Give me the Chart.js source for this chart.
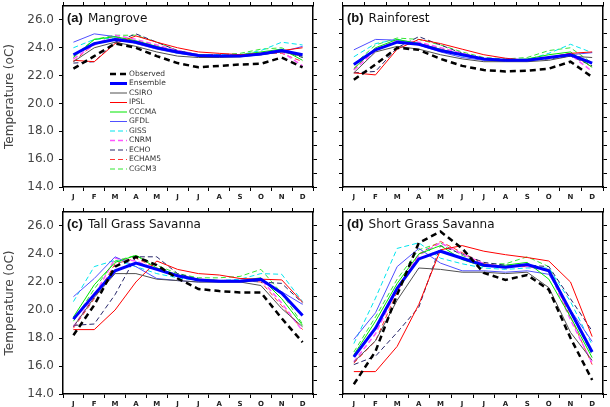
<!DOCTYPE html>
<html>
<head>
<meta charset="utf-8">
<script src="https://cdn.jsdelivr.net/npm/chart.js@4.4.1/dist/chart.umd.min.js"></script>
<style>
  html, body { margin: 0; padding: 0; background: #fff; }
  #wrap { position: relative; width: 610px; height: 407px; }
  canvas { position: absolute; }
</style>
</head>
<body>
<div id="wrap">
  <canvas id="chartA" width="320" height="205" style="left:0px;top:0px"></canvas>
  <canvas id="chartB" width="290" height="205" style="left:320px;top:0px"></canvas>
  <canvas id="chartC" width="320" height="202" style="left:0px;top:205px"></canvas>
  <canvas id="chartD" width="290" height="202" style="left:320px;top:205px"></canvas>
</div>
<script>
const months = ['J', 'F', 'M', 'A', 'M', 'J', 'J', 'A', 'S', 'O', 'N', 'D'];
const models = ['Observed', 'Ensemble', 'CSIRO', 'IPSL', 'CCCMA', 'GFDL', 'GISS', 'CNRM', 'ECHO', 'ECHAM5', 'CGCM3'];
const yMin = 14, yMax = 27;

// one row per model, same order as `models`
const mangrove = [
    [22.5, 23.4, 24.3, 24.0, 23.4, 22.9, 22.6, 22.7, 22.8, 22.85, 23.3, 22.6],
    [23.5, 24.3, 24.6, 24.4, 24.0, 23.7, 23.45, 23.4, 23.4, 23.55, 23.8, 23.5],
    [23.0, 24.0, 24.4, 24.1, 23.7, 23.4, 23.3, 23.3, 23.35, 23.5, 23.7, 23.4],
    [23.1, 23.0, 24.3, 24.85, 24.4, 24.0, 23.7, 23.6, 23.5, 23.6, 23.8, 24.0],
    [23.3, 24.6, 24.8, 24.5, 24.1, 23.7, 23.5, 23.4, 23.5, 23.7, 23.9, 23.1],
    [24.4, 25.0, 24.8, 24.3, 23.9, 23.6, 23.4, 23.4, 23.4, 23.5, 23.7, 24.1],
    [24.0, 24.6, 24.7, 24.4, 24.0, 23.6, 23.5, 23.5, 23.5, 23.8, 24.4, 24.2],
    [23.2, 24.2, 24.9, 24.6, 24.2, 23.8, 23.5, 23.4, 23.4, 23.6, 23.7, 22.7],
    [22.9, 23.0, 24.4, 25.0, 24.4, 23.8, 23.5, 23.4, 23.4, 23.6, 23.8, 23.3],
    [23.0, 24.3, 24.7, 24.5, 24.1, 23.7, 23.5, 23.5, 23.5, 23.6, 23.6, 23.0],
    [23.4, 24.6, 24.9, 24.9, 24.4, 23.8, 23.5, 23.5, 23.6, 23.9, 24.0, 23.3]
];
const rainforest = [
    [21.7, 22.8, 24.0, 23.85, 23.2, 22.7, 22.4, 22.3, 22.35, 22.5, 23.0, 21.9],
    [22.8, 23.85, 24.4, 24.25, 23.8, 23.5, 23.2, 23.1, 23.1, 23.3, 23.5, 22.9],
    [22.2, 23.7, 24.1, 23.9, 23.5, 23.2, 23.0, 23.0, 23.0, 23.1, 23.4, 23.3],
    [22.2, 22.05, 23.9, 24.6, 24.3, 23.9, 23.5, 23.25, 23.1, 23.3, 23.6, 23.7],
    [22.5, 24.0, 24.6, 24.3, 23.9, 23.5, 23.2, 23.1, 23.2, 23.5, 23.7, 22.6],
    [23.85, 24.6, 24.55, 24.2, 23.7, 23.3, 23.1, 23.05, 23.05, 23.25, 23.5, 23.65],
    [23.35, 24.3, 24.6, 24.3, 23.8, 23.4, 23.2, 23.1, 23.15, 23.6, 24.25, 23.65],
    [22.4, 23.8, 24.5, 24.4, 24.0, 23.6, 23.2, 23.1, 23.1, 23.3, 23.5, 22.3],
    [22.2, 22.3, 24.0, 24.8, 24.2, 23.6, 23.2, 23.1, 23.1, 23.2, 23.4, 22.7],
    [22.5, 23.9, 24.5, 24.3, 23.9, 23.5, 23.2, 23.1, 23.15, 23.3, 23.6, 22.6],
    [22.8, 24.2, 24.7, 24.6, 24.2, 23.7, 23.3, 23.2, 23.3, 23.8, 24.0, 22.9]
];
const tallGrass = [
    [18.2, 20.35, 23.1, 23.8, 23.2, 22.25, 21.5, 21.35, 21.25, 21.25, 19.4, 17.7],
    [19.35, 21.1, 22.8, 23.35, 22.9, 22.45, 22.15, 22.05, 22.05, 22.2, 21.2, 19.6],
    [18.8, 20.9, 22.6, 22.6, 22.2, 22.1, 22.0, 22.0, 22.0, 21.75, 20.1, 18.8],
    [18.6, 18.6, 20.0, 22.0, 23.5, 22.9, 22.6, 22.5, 22.25, 22.2, 22.15, 20.55],
    [19.5, 21.8, 23.4, 23.9, 23.0, 22.5, 22.2, 22.1, 22.1, 22.3, 20.8, 18.9],
    [20.95, 22.25, 23.8, 23.1, 22.25, 22.1, 22.0, 22.0, 22.0, 22.1, 21.3, 20.4],
    [20.6, 23.1, 23.55, 23.1, 22.6, 22.3, 22.1, 22.1, 22.2, 22.6, 22.55, 20.6],
    [18.8, 21.0, 23.7, 23.5, 22.9, 22.4, 22.2, 22.1, 22.1, 22.2, 20.5, 18.5],
    [18.9, 19.0, 21.1, 23.8, 23.8, 22.6, 22.2, 22.1, 22.1, 22.0, 21.9, 20.5],
    [18.7, 20.8, 23.3, 23.7, 23.0, 22.5, 22.2, 22.1, 22.1, 22.0, 20.3, 18.6],
    [19.2, 21.5, 23.5, 23.9, 23.2, 22.6, 22.3, 22.3, 22.4, 22.9, 21.2, 19.0]
];
const shortGrass = [
    [14.7, 17.05, 21.1, 24.8, 25.6, 24.4, 22.65, 22.15, 22.5, 21.45, 18.0, 15.0],
    [16.65, 18.7, 21.55, 23.65, 24.2, 23.7, 23.2, 23.05, 23.25, 22.8, 19.9, 17.0],
    [16.3, 17.8, 20.7, 23.0, 22.9, 22.7, 22.7, 22.6, 22.7, 21.6, 18.4, 16.4],
    [15.6, 15.6, 17.4, 20.4, 24.3, 24.6, 24.2, 23.95, 23.75, 23.5, 22.0, 18.1],
    [16.8, 19.2, 21.9, 24.0, 24.6, 23.6, 23.1, 23.2, 23.4, 22.2, 19.5, 16.6],
    [17.9, 19.8, 23.1, 24.4, 23.35, 22.8, 22.8, 22.7, 22.8, 22.55, 20.0, 17.75],
    [17.6, 20.85, 24.4, 24.8, 23.7, 23.3, 23.0, 22.9, 23.0, 23.0, 20.6, 17.5],
    [16.3, 18.3, 21.5, 23.9, 24.8, 24.0, 23.3, 23.1, 23.1, 22.8, 19.3, 16.2],
    [16.1, 16.7, 18.4, 20.2, 24.6, 24.0, 23.4, 23.2, 23.2, 23.1, 20.8, 18.5],
    [16.2, 17.8, 21.3, 24.0, 24.9, 24.1, 23.3, 23.1, 23.1, 22.9, 19.5, 16.1],
    [17.0, 19.5, 22.2, 24.3, 24.8, 23.9, 23.3, 23.3, 23.8, 23.1, 19.8, 16.8]
];

// line styles, same order as `models`
const lineColors = ['#000000', '#0000ff', '#505050', '#ff0000', '#00e600', '#5050ff', '#00e5ee', '#ff55ff', '#26266a', '#ff3333', '#33e633'];
const lineWidths = [2.5, 3, 1, 1, 1, 1, 1, 1.5, 1, 1, 1];
const lineDashes = [[6, 4], [], [], [], [], [], [5, 3], [5, 3], [5, 3], [5, 3], [5, 3]];

Chart.defaults.font.family = 'DejaVu Sans';
Chart.defaults.color = '#333';

const panelTitle = {
    id: 'panelTitle',
    afterDraw(chart, args, opts) {
        const { ctx, chartArea } = chart;
        ctx.save();
        ctx.fillStyle = '#111';
        ctx.textBaseline = 'middle';
        const x = chartArea.left + 4, y = chartArea.top + 12.5;
        ctx.font = 'bold 13px "Liberation Sans"';
        ctx.fillText(opts.tag, x, y);
        const w = ctx.measureText(opts.tag).width;
        ctx.font = '12px "DejaVu Sans"';
        ctx.fillText(opts.name, x + w + 5, y);
        ctx.restore();
    }
};

const lineLegend = {
    id: 'lineLegend',
    afterDatasetsDraw(chart, args, opts) {
        if (!opts.show) return;
        const { ctx, chartArea } = chart;
        const x0 = chartArea.left + 47, x1 = chartArea.left + 64;
        ctx.save();
        ctx.font = '7.5px "DejaVu Sans"';
        ctx.textBaseline = 'middle';
        chart.data.datasets.forEach((ds, i) => {
            const y = chartArea.top + 68 + i * 9.5;
            ctx.strokeStyle = ds.borderColor;
            ctx.lineWidth = ds.borderWidth;
            ctx.setLineDash(ds.borderDash);
            ctx.beginPath();
            ctx.moveTo(x0, y);
            ctx.lineTo(x1, y);
            ctx.stroke();
            ctx.setLineDash([]);
            ctx.fillStyle = '#333';
            ctx.fillText(ds.label, x1 + 2, y);
        });
        ctx.restore();
    }
};

function makePanel(id, tag, name, rows, size) {
    const grid = { drawOnChartArea: false, color: '#000', lineWidth: 1, tickLength: 4 };
    const border = { display: true, color: '#000', width: 1.5 };
    const cut = s => { s.ticks = s.ticks.filter(t => t.value < yMax); };
    // fixed axis sizes so the four plot frames line up
    const fixH = h => s => { s.height = h; s.paddingLeft = 0; s.paddingRight = 0; };
    const fixW = w => s => { s.width = w; s.paddingTop = 0; s.paddingBottom = 0; };
    new Chart(document.getElementById(id), {
        type: 'line',
        data: {
            labels: months,
            datasets: rows.map((vals, i) => ({
                label: models[i],
                data: vals,
                borderColor: lineColors[i],
                borderWidth: lineWidths[i],
                borderDash: lineDashes[i],
                pointRadius: 0,
                tension: 0,
                fill: false
            }))
        },
        options: {
            responsive: false,
            animation: false,
            events: [],
            layout: { padding: 0 },
            plugins: {
                legend: { display: false },
                tooltip: { enabled: false },
                panelTitle: { tag: tag, name: name },
                lineLegend: { show: size.legend }
            },
            scales: {
                x: {
                    position: 'bottom', offset: true,
                    grid: { ...grid, offset: true }, border,
                    ticks: { color: '#222', font: { size: 7, weight: 'bold' }, padding: 2, maxRotation: 0, autoSkip: false },
                    afterFit: fixH(size.bottom)
                },
                x2: {
                    position: 'top', offset: true,
                    grid: { ...grid, offset: true }, border,
                    ticks: { display: false },
                    afterFit: fixH(size.top)
                },
                y: {
                    position: 'left', min: yMin, max: yMax,
                    grid, border,
                    afterBuildTicks: cut,
                    ticks: {
                        display: size.labels, stepSize: 1, padding: 5, color: '#444',
                        font: { size: 12 },
                        callback: v => v % 2 === 0 ? v.toFixed(1) : ''
                    },
                    title: {
                        display: size.labels, text: 'Temperature (oC)', color: '#444',
                        font: { size: 12 }, padding: { top: 3, bottom: 0 }
                    },
                    afterFit: fixW(size.left)
                },
                y2: {
                    position: 'right', min: yMin, max: yMax,
                    grid, border,
                    afterBuildTicks: cut,
                    ticks: { display: false, stepSize: 1 },
                    afterFit: fixW(7)
                }
            }
        },
        plugins: [panelTitle, lineLegend]
    });
}

makePanel('chartA', '(a)', 'Mangrove', mangrove, { left: 63, top: 6, bottom: 18, labels: true, legend: true });
makePanel('chartB', '(b)', 'Rainforest', rainforest, { left: 23, top: 6, bottom: 18, labels: false, legend: false });
makePanel('chartC', '(c)', 'Tall Grass Savanna', tallGrass, { left: 63, top: 7, bottom: 13, labels: true, legend: false });
makePanel('chartD', '(d)', 'Short Grass Savanna', shortGrass, { left: 23, top: 7, bottom: 13, labels: false, legend: false });
</script>
</body>
</html>
